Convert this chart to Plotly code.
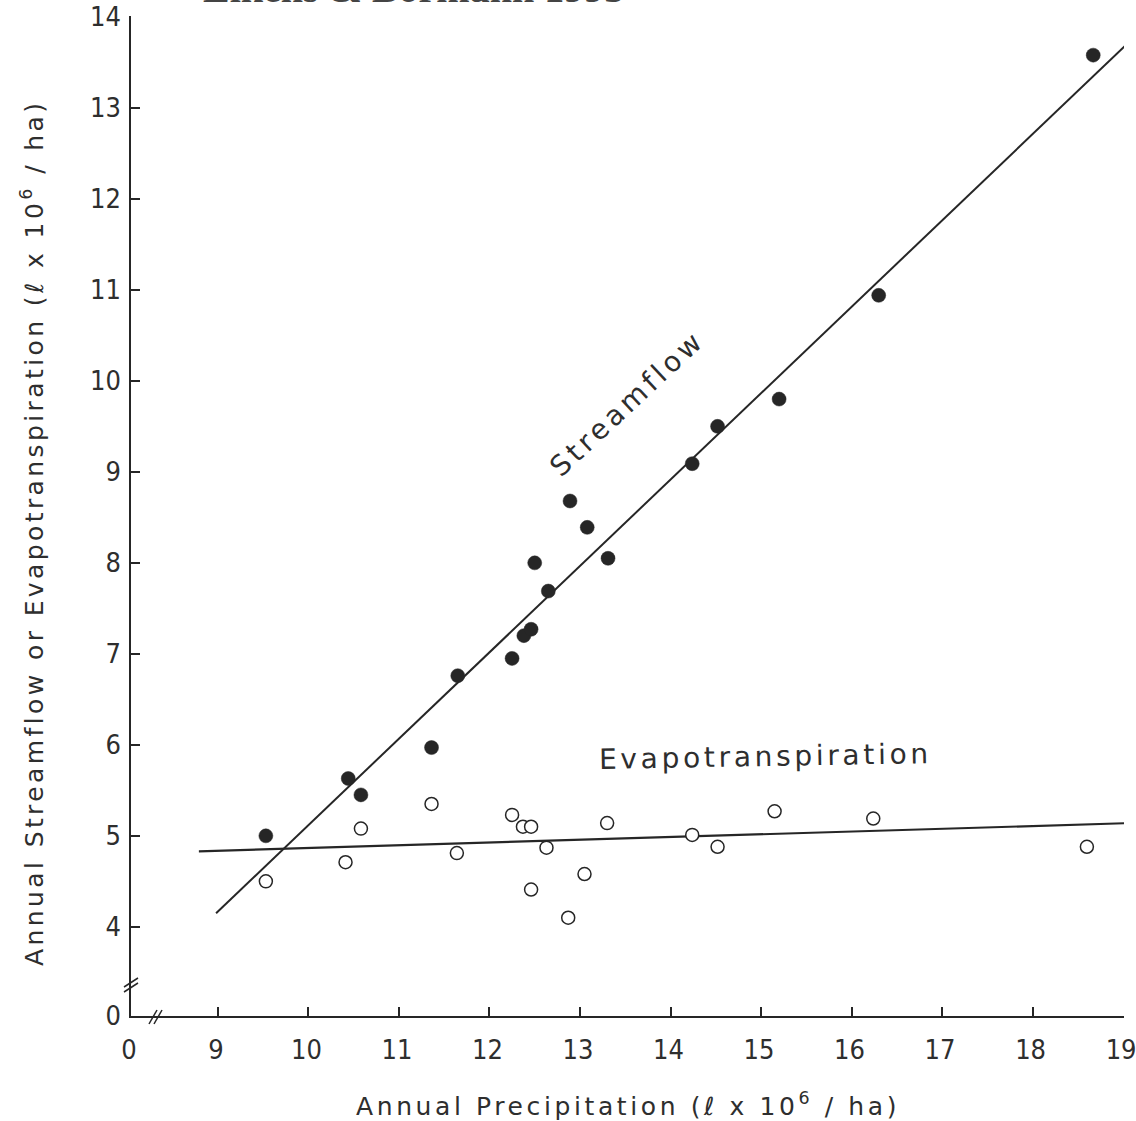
import plotly.graph_objects as go

# ---------------- data ----------------
stream_x = [9.53, 10.44, 10.58, 11.36, 11.65, 12.25, 12.38, 12.46, 12.50, 12.65,
            12.89, 13.08, 13.31, 14.24, 14.52, 15.20, 16.30, 18.67]
stream_y = [5.00, 5.63, 5.45, 5.97, 6.76, 6.95, 7.20, 7.27, 8.00, 7.69,
            8.68, 8.39, 8.05, 9.09, 9.50, 9.80, 10.94, 13.58]

et_x = [9.53, 10.41, 10.58, 11.36, 11.64, 12.25, 12.37, 12.46, 12.46, 12.63,
        12.87, 13.05, 13.30, 14.24, 14.52, 15.15, 16.24, 18.60]
et_y = [4.50, 4.71, 5.08, 5.35, 4.81, 5.23, 5.10, 5.10, 4.41, 4.87,
        4.10, 4.58, 5.14, 5.01, 4.88, 5.27, 5.19, 4.88]

stream_fit_x = [8.98, 19.02]
stream_fit_y = [4.15, 13.68]
et_fit_x = [8.79, 19.07]
et_fit_y = [4.83, 5.14]

x_tick_vals = [9, 10, 11, 12, 13, 14, 15, 16, 17, 18, 19]
y_tick_vals = [4, 5, 6, 7, 8, 9, 10, 11, 12, 13, 14]

# broken axes: the "0" origin label sits at the axis corner
X_MIN, X_MAX = 8.04, 19.01
Y_MIN, Y_MAX = 3.02, 14.01

INK = "#262626"
TXT = "#2e2e2e"
W, H = 1136, 1121
ML, MR, MT, MB = 131, 12, 16, 105
PW, PH = W - ML - MR, H - MT - MB


def px(xp):
    return (xp - ML) / PW


def py(yp):
    return 1 - (yp - MT) / PH


fig = go.Figure()

fig.add_trace(go.Scatter(x=stream_fit_x, y=stream_fit_y, mode="lines",
                         line=dict(color=INK, width=2), hoverinfo="skip"))
fig.add_trace(go.Scatter(x=et_fit_x, y=et_fit_y, mode="lines",
                         line=dict(color=INK, width=2.2), hoverinfo="skip"))
fig.add_trace(go.Scatter(x=et_x, y=et_y, mode="markers",
                         marker=dict(symbol="circle", size=13, color="white",
                                     line=dict(color=INK, width=1.5)),
                         name="Evapotranspiration"))
fig.add_trace(go.Scatter(x=stream_x, y=stream_y, mode="markers",
                         marker=dict(symbol="circle", size=14, color=INK,
                                     line=dict(color=INK, width=0.5)),
                         name="Streamflow"))

tickfont = dict(family="DejaVu Sans Condensed, DejaVu Sans", size=27, color=TXT)

fig.update_xaxes(range=[X_MIN, X_MAX], showgrid=False, zeroline=False,
                 automargin=False, ticklabeloverflow="allow",
                 showline=True, linecolor=INK, linewidth=1.5,
                 ticks="inside", ticklen=9, tickwidth=1.5, tickcolor=INK,
                 tickvals=[X_MIN] + x_tick_vals,
                 ticktext=["0"] + [str(v) for v in x_tick_vals],
                 tickfont=tickfont, ticklabelstandoff=9, ticklabelshift=-2)
fig.update_yaxes(range=[Y_MIN, Y_MAX], showgrid=False, zeroline=False,
                 automargin=False, ticklabeloverflow="allow",
                 showline=True, linecolor=INK, linewidth=1.5,
                 ticks="inside", ticklen=9, tickwidth=1.5, tickcolor=INK,
                 tickvals=[Y_MIN] + y_tick_vals,
                 ticktext=["0"] + [str(v) for v in y_tick_vals],
                 tickfont=tickfont, ticklabelstandoff=3)

# axis-break marks
shapes = []
for dx in (0, 5):
    shapes.append(dict(type="line", xref="paper", yref="paper",
                       x0=px(149 + dx), y0=py(1024), x1=px(157 + dx), y1=py(1010),
                       line=dict(color=INK, width=1.5)))
for dy in (0, 5):
    shapes.append(dict(type="line", xref="paper", yref="paper",
                       x0=px(124), y0=py(992 - dy), x1=px(138), y1=py(983 - dy),
                       line=dict(color=INK, width=1.5)))
fig.update_layout(shapes=shapes)


def spaced(t, ls):
    return '<span style="letter-spacing:%spx">%s</span>' % (ls, t)


lab = dict(family="DejaVu Sans", size=25, color=TXT)
annotations = [
    dict(text=spaced("Streamflow", 4), x=13.52, y=9.75, xref="x", yref="y",
         xanchor="center", yanchor="middle",
         showarrow=False, textangle=-43,
         font=dict(family="DejaVu Sans", size=28, color=TXT)),
    dict(text=spaced("Evapotranspiration", 3.7), x=15.05, y=5.87, xref="x", yref="y",
         xanchor="center", yanchor="middle",
         showarrow=False, textangle=-1,
         font=dict(family="DejaVu Sans", size=28, color=TXT)),
    dict(text=spaced("Annual Precipitation (ℓ x 10<sup>6</sup> / ha)", 3.6),
         x=px(628), y=py(1104), xref="paper", yref="paper",
         xanchor="center", yanchor="middle",
         showarrow=False, font=lab),
    dict(text=spaced("Annual Streamflow or Evapotranspiration (ℓ x 10<sup>6</sup> / ha)", 3.4),
         x=px(32), y=py(533), xref="paper", yref="paper",
         xanchor="center", yanchor="middle",
         showarrow=False, textangle=-90, font=lab),
    dict(text="<b>Likens & Bormann 1995</b>",
         x=px(413), y=py(13), xref="paper", yref="paper",
         xanchor="center", yanchor="bottom", showarrow=False,
         font=dict(family="Liberation Serif", size=40, color="#444444")),
]

fig.update_layout(
    width=W, height=H,
    margin=dict(l=ML, r=MR, t=MT, b=MB, autoexpand=False),
    paper_bgcolor="white", plot_bgcolor="white",
    showlegend=False,
    annotations=annotations,
)

fig.write_html("out.html")
